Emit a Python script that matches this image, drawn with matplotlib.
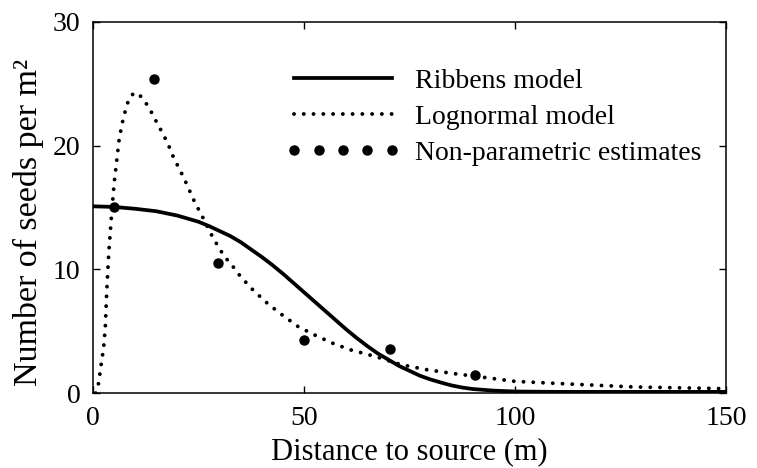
import matplotlib
matplotlib.use("Agg")
import matplotlib.pyplot as plt

# Ribbens model curve
ribbens_x = [0, 5, 10, 15, 20, 25, 27.5, 30, 32.5, 35, 37.5, 40, 42.5, 45, 47.5, 50, 52.5, 55, 57.5, 60,
             62.5, 65, 67.5, 70, 72.5, 75, 77.5, 80, 82.5, 85, 87.5, 90, 95, 100, 110, 120, 135, 150]
ribbens_y = [15.1, 15.05, 14.9, 14.7, 14.35, 13.85, 13.5, 13.1, 12.7, 12.2, 11.6, 11.0, 10.35, 9.65, 8.9, 8.15, 7.4, 6.65, 5.9, 5.15,
             4.45, 3.8, 3.2, 2.7, 2.2, 1.8, 1.4, 1.1, 0.85, 0.62, 0.45, 0.33, 0.2, 0.13, 0.1, 0.1, 0.1, 0.1]

# Lognormal model curve
lognormal_x = [0.6, 1.3, 1.9, 2.5, 2.9, 3.2, 3.7, 4.5, 5.0, 5.6, 6.2, 7.2, 8.4, 9.2, 10, 11, 12, 13, 14, 15.2, 16.5, 17.8, 19,
               21.5, 24, 26, 28.5, 31, 33, 35, 38, 41.5, 44.5, 48.5, 52.5, 57, 61, 67, 73, 79, 85, 92, 100, 112, 128, 148, 150]
lognormal_y = [0.0, 0.8, 2.3, 3.7, 5.4, 8.0, 11.3, 15.0, 17.0, 18.8, 20.6, 22.3, 23.7, 24.1, 24.3, 24.1, 23.7, 23.2, 22.6, 21.8, 21.0, 20.1, 19.1,
               17.4, 15.5, 14.2, 12.5, 11.1, 10.3, 9.4, 8.3, 7.2, 6.4, 5.4, 4.7, 4.0, 3.5, 2.95, 2.3, 1.9, 1.6, 1.3, 0.95, 0.75, 0.5, 0.37, 0.36]

# Non-parametric estimates
est_x = [5, 14.5, 29.7, 50, 70.4, 90.4]
est_y = [15.05, 25.4, 10.5, 4.3, 3.6, 1.45]

plt.rcParams['font.family'] = ['Liberation Serif', 'DejaVu Serif']

fig = plt.figure(figsize=(7.57, 4.68), dpi=100)
ax = fig.add_axes([0.123, 0.160, 0.836, 0.793])

ax.plot(ribbens_x, ribbens_y, color='black', lw=2.7, label='Ribbens model')
ax.plot(lognormal_x, lognormal_y, color='black', lw=2.8, linestyle=(0, (0.01, 2.5)),
        dash_capstyle='round', label='Lognormal model')
ax.plot(est_x, est_y, linestyle='none', marker='o', color='black', markersize=6.5,
        label='Non-parametric estimates')

ax.set_xlim(0, 150)
ax.set_ylim(0, 30)
ax.set_xticks([0, 50, 100, 150])
ax.set_yticks([0, 10, 20, 30])
ax.tick_params(direction='in', top=True, right=True, length=5, width=1, labelsize=20, pad=9)
for s in ax.spines.values():
    s.set_linewidth(1.1)

ax.set_xlabel('Distance to source (m)', fontsize=22, labelpad=5)
ax.set_ylabel('Number of seeds per m²', fontsize=24.5)
ax.yaxis.set_label_coords(-0.077, 0.46)

ax.legend(loc='upper left', bbox_to_anchor=(0.305, 0.875), frameon=False, fontsize=20,
          handlelength=4.1, handletextpad=0.55, labelspacing=0.38, numpoints=5,
          borderpad=0, borderaxespad=0)

fig.savefig('out.png', dpi=100)
